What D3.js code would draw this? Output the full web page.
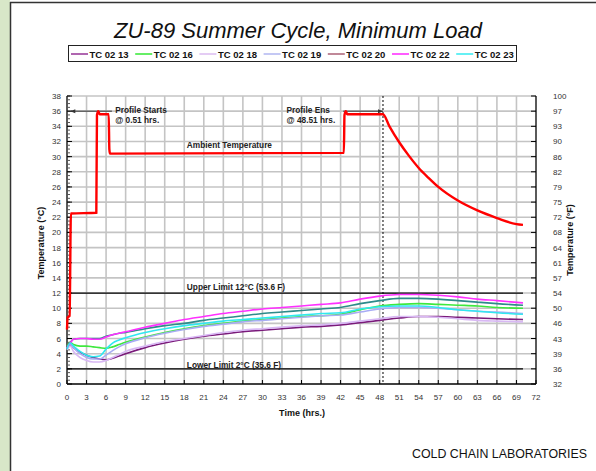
<!DOCTYPE html>
<html><head><meta charset="utf-8">
<script src="https://cdn.jsdelivr.net/npm/d3@7"></script>
<style>
html,body{margin:0;padding:0;background:#fff;}
svg{display:block;font-family:"Liberation Sans",Arial,sans-serif;}
</style></head>
<body>
<svg id="chart" width="596" height="471"></svg>
<script>
// ---------------- DATA ----------------
const title = "ZU-89 Summer Cycle, Minimum Load";
const seriesNames = ["TC 02 13","TC 02 16","TC 02 18","TC 02 19","TC 02 20","TC 02 22","TC 02 23"];
const lineColors  = ["#7a1a7a","#3ee83e","#d8b8f4","#a8acf4","#2e8a8a","#ff30ff","#30e8f0"];
const legendColors= ["#b066b0","#66ee66","#e4ccf4","#c4c8f4","#c08898","#ff5cff","#66f0f4"];
const times = [0,0.5,1,2,3,4,5,6,7,8,9,12,15,18,21,24,27,30,33,36,39,42,45,48,51,54,57,60,63,66,70];
const tc0213 = [5.0,5.2,4.8,4.2,3.8,3.5,3.3,3.2,3.4,3.7,4.0,4.8,5.4,5.9,6.3,6.6,6.9,7.1,7.3,7.5,7.6,7.8,8.1,8.4,8.7,8.9,8.9,8.8,8.7,8.6,8.5];
const tc0216 = [5.0,5.5,5.2,5.0,5.0,4.9,4.8,4.7,4.9,5.2,5.5,6.2,6.8,7.3,7.7,8.0,8.3,8.5,8.7,8.9,9.0,9.2,9.8,10.3,10.5,10.6,10.5,10.4,10.3,10.1,10.0];
const tc0218 = [4.5,5.0,4.3,3.5,3.1,2.9,2.9,3.1,3.5,3.9,4.3,5.0,5.6,6.0,6.4,6.8,7.1,7.3,7.5,7.7,7.8,8.0,8.3,8.6,8.9,8.9,8.8,8.6,8.4,8.3,8.2];
const tc0219 = [4.7,5.3,4.8,4.0,3.5,3.3,3.3,3.8,4.4,4.9,5.3,6.1,6.7,7.2,7.6,7.9,8.2,8.4,8.6,8.8,9.0,9.1,9.5,9.9,10.1,10.1,10.0,9.8,9.6,9.5,9.3];
const tc0220 = [4.9,5.5,5.9,6.0,6.0,6.0,6.0,6.3,6.5,6.7,6.8,7.3,7.7,8.0,8.4,8.7,9.0,9.3,9.5,9.7,9.9,10.1,10.6,11.0,11.3,11.3,11.2,11.0,10.8,10.6,10.4];
const tc0222 = [4.8,5.4,5.9,6.0,6.0,5.9,5.9,6.2,6.5,6.7,6.9,7.5,8.0,8.5,8.9,9.3,9.6,9.9,10.1,10.3,10.5,10.7,11.2,11.6,11.8,11.8,11.7,11.5,11.2,11.0,10.7];
const tc0223 = [4.6,5.4,5.0,4.3,3.8,3.6,3.7,4.6,5.4,5.8,6.1,6.8,7.3,7.7,8.0,8.3,8.5,8.7,8.9,9.1,9.3,9.4,9.9,10.2,10.3,10.3,10.1,9.8,9.6,9.4,9.2];
const seriesValues = [tc0213,tc0216,tc0218,tc0219,tc0220,tc0222,tc0223];
const ambientTimes = [0,0.1,0.4,0.6,4.5,4.6,4.8,5.0,6.4,6.5,6.6,42.5,42.6,42.8,43.0,48.5,49.5,51,52.5,54,55.5,57,60,63,66,69,70];
const ambientVals  = [7.2,8.8,9.0,22.5,22.6,35.5,36.0,35.6,35.6,31.0,30.4,30.5,35.5,36.0,35.6,35.6,34.0,31.9,30.1,28.5,27.2,26.0,24.2,22.9,21.9,21.1,21.0];
const leftTicks = d3.range(0, 39, 2);
const rightTickLabels = ["32","36","39","43","46","50","54","57","61","64","68","72","75","79","82","86","90","93","97","100"];
const xTicks = d3.range(0, 73, 3);
const upperLimit = 12, lowerLimit = 2;
const profileStart = 0.51, profileEnd = 48.51;

// ---------------- DRAW ----------------
const svg = d3.select("#chart");
const W = 596, H = 471;
const x = d3.scaleLinear().domain([0,72]).range([67,536]);
const y = d3.scaleLinear().domain([0,38]).range([384,96]);

// frame
svg.append("rect").attr("x",0).attr("y",0).attr("width",10).attr("height",H).attr("fill","#d8e7c8");
svg.append("line").attr("x1",10.5).attr("x2",10.5).attr("y1",2).attr("y2",H).attr("stroke","#333").attr("stroke-width",1.5);
svg.append("line").attr("x1",10).attr("x2",W).attr("y1",2.5).attr("y2",2.5).attr("stroke","#333").attr("stroke-width",1.5);

// title
svg.append("text").attr("x",298).attr("y",38).attr("text-anchor","middle")
  .attr("font-size",22).attr("font-style","italic").attr("fill","#111").text(title);

// legend
const lg = svg.append("g");
lg.append("rect").attr("x",68.5).attr("y",45.5).attr("width",448).attr("height",16)
  .attr("fill","#fff").attr("stroke","#222").attr("stroke-width",1);
seriesNames.forEach((n,i)=>{
  const lx = 71 + i*64.2;
  lg.append("line").attr("x1",lx).attr("x2",lx+17).attr("y1",54).attr("y2",54)
    .attr("stroke",legendColors[i]).attr("stroke-width",2);
  lg.append("text").attr("x",lx+18.5).attr("y",57.5).attr("font-size",9.5).attr("font-weight","bold")
    .attr("fill","#111").text(n);
});

// grid
const g = svg.append("g");
g.selectAll(".vg").data(xTicks.slice(1,-1)).join("line")
  .attr("x1",d=>x(d)).attr("x2",d=>x(d)).attr("y1",y(38)).attr("y2",y(0))
  .attr("stroke","#c4c4c4").attr("stroke-width",1.6);
g.selectAll(".hg").data(leftTicks.slice(1)).join("line")
  .attr("x1",x(0)).attr("x2",x(72)).attr("y1",d=>y(d)).attr("y2",d=>y(d))
  .attr("stroke","#c4c4c4").attr("stroke-width",1.6);

// axes lines
g.append("line").attr("x1",x(0)).attr("x2",x(0)).attr("y1",y(38)).attr("y2",y(0)).attr("stroke","#000").attr("stroke-width",1.3);
g.append("line").attr("x1",x(72)).attr("x2",x(72)).attr("y1",y(38)).attr("y2",y(0)).attr("stroke","#000").attr("stroke-width",1.3);
g.append("line").attr("x1",x(0)).attr("x2",x(72)).attr("y1",y(0)).attr("y2",y(0)).attr("stroke","#000").attr("stroke-width",1.5);

// left axis ticks (major + minor inward)
g.selectAll(".lmin").data(d3.range(0,38.01,0.5)).join("line")
  .attr("x1",x(0)).attr("x2",x(0)+3).attr("y1",d=>y(d)).attr("y2",d=>y(d))
  .attr("stroke","#555").attr("stroke-width",1);
g.selectAll(".lmaj").data(leftTicks).join("line")
  .attr("x1",x(0)).attr("x2",x(0)+5).attr("y1",d=>y(d)).attr("y2",d=>y(d))
  .attr("stroke","#000").attr("stroke-width",1);
g.selectAll(".rmaj").data(leftTicks).join("line")
  .attr("x1",x(72)-5).attr("x2",x(72)).attr("y1",d=>y(d)).attr("y2",d=>y(d))
  .attr("stroke","#000").attr("stroke-width",1);
g.selectAll(".bmaj").data(xTicks).join("line")
  .attr("x1",d=>x(d)).attr("x2",d=>x(d)).attr("y1",y(0)).attr("y2",y(0)-4)
  .attr("stroke","#000").attr("stroke-width",1);

// tick labels
g.selectAll(".ll").data(leftTicks).join("text")
  .attr("x",61).attr("y",d=>y(d)+3).attr("text-anchor","end").attr("font-size",8).attr("fill","#333").text(d=>d);
g.selectAll(".rl").data(leftTicks).join("text")
  .attr("x",553).attr("y",d=>y(d)+3).attr("text-anchor","start").attr("font-size",8).attr("fill","#333")
  .text((d,i)=>rightTickLabels[i]);
g.selectAll(".bl").data(xTicks).join("text")
  .attr("x",d=>x(d)).attr("y",400).attr("text-anchor","middle").attr("font-size",8).attr("fill","#333").text(d=>d);

// axis titles
svg.append("text").attr("transform","translate(44,243) rotate(-90)").attr("text-anchor","middle")
  .attr("font-size",9).attr("font-weight","bold").attr("fill","#111").text("Temperature (°C)");
svg.append("text").attr("transform","translate(573,240) rotate(-90)").attr("text-anchor","middle")
  .attr("font-size",9).attr("font-weight","bold").attr("fill","#111").text("Temperature (°F)");
svg.append("text").attr("x",302).attr("y",416).attr("text-anchor","middle")
  .attr("font-size",9).attr("font-weight","bold").attr("fill","#111").text("Time (hrs.)");

// limit lines
[upperLimit, lowerLimit].forEach(v=>{
  g.append("line").attr("x1",x(0)).attr("x2",x(70)).attr("y1",y(v)).attr("y2",y(v))
    .attr("stroke","#000").attr("stroke-width",1.3);
});

// profile end dashed line
g.append("line").attr("x1",x(profileEnd)).attr("x2",x(profileEnd)).attr("y1",y(38)).attr("y2",y(0))
  .attr("stroke","#000").attr("stroke-width",1).attr("stroke-dasharray","2,2");

// arrows
const defs = svg.append("defs");
defs.append("marker").attr("id","ah").attr("viewBox","0 0 10 10").attr("refX",10).attr("refY",5)
  .attr("markerWidth",6).attr("markerHeight",5).attr("orient","auto-start-reverse")
  .append("path").attr("d","M0,1 L10,5 L0,9 Z").attr("fill","#333");
g.append("line").attr("x1",x(6.9)).attr("x2",x(profileStart)).attr("y1",y(36)).attr("y2",y(36))
  .attr("stroke","#333").attr("stroke-width",1).attr("marker-end","url(#ah)");
g.append("line").attr("x1",x(42.4)).attr("x2",x(profileEnd)).attr("y1",y(36)).attr("y2",y(36))
  .attr("stroke","#333").attr("stroke-width",1).attr("marker-end","url(#ah)");

// series lines
const line = d3.line().curve(d3.curveMonotoneX).x(d=>x(d[0])).y(d=>y(d[1]));
seriesValues.forEach((vals,i)=>{
  g.append("path").datum(times.map((t,j)=>[t,vals[j]]))
    .attr("d",line).attr("fill","none").attr("stroke",lineColors[i]).attr("stroke-width",1.6);
});
g.append("path").datum(ambientTimes.map((t,j)=>[t,ambientVals[j]]))
  .attr("d",line).attr("fill","none").attr("stroke","#ff0000").attr("stroke-width",2.4);

// annotations
const ann = [
  ["Profile Starts",7.4,112.5],["@ 0.51 hrs.",7.4,123],
  ["Profile Ens",33.7,112.5],["@ 48.51 hrs.",33.7,123],
  ["Ambient Temperature",18.4,147.5],
  ["Upper Limit 12°C (53.6 F)",18.4,290],
  ["Lower Limit 2°C (35.6 F)",18.4,367.5]
];
ann.forEach(a=>{
  g.append("text").attr("x",x(a[1])).attr("y",a[2]).attr("font-size",8.3).attr("font-weight","bold")
    .attr("fill","#222").text(a[0]);
});

// footer
svg.append("text").attr("x",412).attr("y",458).attr("font-size",12.5)
  .attr("font-family","'Liberation Sans Narrow','Liberation Sans',Arial,sans-serif")
  .attr("textLength",175).attr("lengthAdjust","spacingAndGlyphs").attr("fill","#111").text("COLD CHAIN LABORATORIES");
</script>
</body></html>
